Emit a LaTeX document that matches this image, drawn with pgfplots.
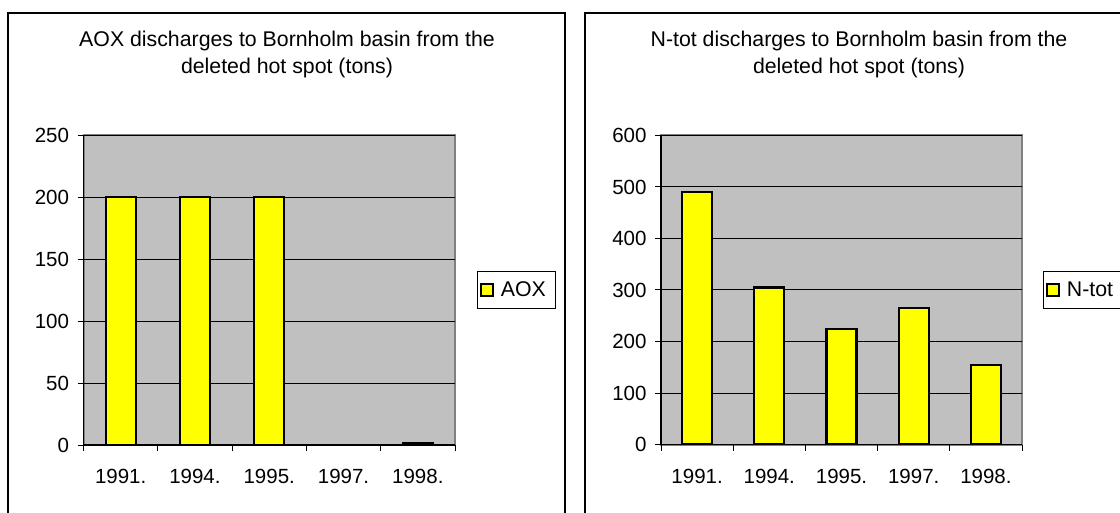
\documentclass[border=0pt]{standalone}
\usepackage{fontspec}
\setmainfont{Liberation Sans}
\usepackage{pgfplots}
\pgfplotsset{compat=1.18}
\definecolor{plotbg}{HTML}{C0C0C0}
\definecolor{baryellow}{HTML}{FFFF00}
\definecolor{bordergray}{HTML}{808080}
\newcommand{\chartfont}{\fontsize{20.5}{27}\selectfont}
\newcommand{\titlefont}{\fontsize{21.3}{27}\selectfont}
\newcommand{\legfont}{\fontsize{21.3}{27}\selectfont}
\pgfplotsset{
  excelbar/.style={
    scale only axis, anchor=south west,
    xmin=-0.5, xmax=4.5, ymin=0,
    axis x line*=bottom, axis y line*=left,
    axis line style={black, line width=1.5pt},
    axis background/.style={fill=plotbg, draw=bordergray, line width=2pt},
    xtick={-0.5,0.5,1.5,2.5,3.5,4.5}, xticklabels={},
    extra x ticks={0,1,2,3,4},
    extra x tick labels={1991.,1994.,1995.,1997.,1998.},
    extra x tick style={major tick length=0pt, grid=none,
      xticklabel style={yshift=-21pt}},
    yticklabel style={xshift=-5pt},
    tick align=outside, tick pos=left,
    major tick length=6pt,
    tick style={black, line width=1pt},
    ymajorgrids, major grid style={black, line width=1pt},
    /pgf/number format/assume math mode=true,
    tick label style={font=\chartfont},
    legend style={anchor=west, draw=black, line width=1pt, fill=white,
      font=\legfont, inner xsep=3pt, inner ysep=3pt,
      nodes={inner xsep=6.5pt, inner ysep=7.5pt}},
    legend image code/.code={\draw[fill=baryellow, draw=black, line width=2pt] (0pt,-6pt) rectangle (12pt,6pt);},
  },
  excelbars/.style={ybar, bar width=30pt, fill=baryellow, draw=black, line width=2.2pt},
}
\begin{document}
\begin{tikzpicture}
\useasboundingbox (0pt,0pt) rectangle (1120pt,512pt);
\clip (0pt,0pt) rectangle (1120pt,512pt);
\fill[white] (0pt,0pt) rectangle (1120pt,512pt);
% panel frames
\draw[line width=1.5pt] (8pt,-10pt) -- (8pt,499pt) -- (565pt,499pt) -- (565pt,-10pt);
\draw[line width=1.5pt] (585pt,-10pt) -- (585pt,499pt) -- (1140pt,499pt);
% titles
\node[align=center, font=\titlefont] at (287pt,458pt) {AOX discharges to Bornholm basin from the\\deleted hot spot (tons)};
\node[align=center, font=\titlefont] at (859pt,458pt) {N-tot discharges to Bornholm basin from the\\deleted hot spot (tons)};
% left chart
\begin{axis}[excelbar, at={(83.5pt,67pt)}, width=371.5pt, height=310pt,
  ymax=250, ytick={0,50,100,150,200,250},
  legend style={at={(1.059,0.5)}}]
\addplot[excelbars] coordinates {(0,200) (1,200) (2,200) (4,1.5)};
\addlegendentry{AOX}
\end{axis}
% right chart
\begin{axis}[excelbar, at={(661pt,67.5pt)}, width=361pt, height=309pt,
  ymax=600, ytick={0,100,200,300,400,500,600},
  legend style={at={(1.058,0.5)}}]
\addplot[excelbars] coordinates {(0,490) (1,305) (2,225) (3,265) (4,155)};
\addlegendentry{N-tot}
\end{axis}
\end{tikzpicture}
\end{document}
